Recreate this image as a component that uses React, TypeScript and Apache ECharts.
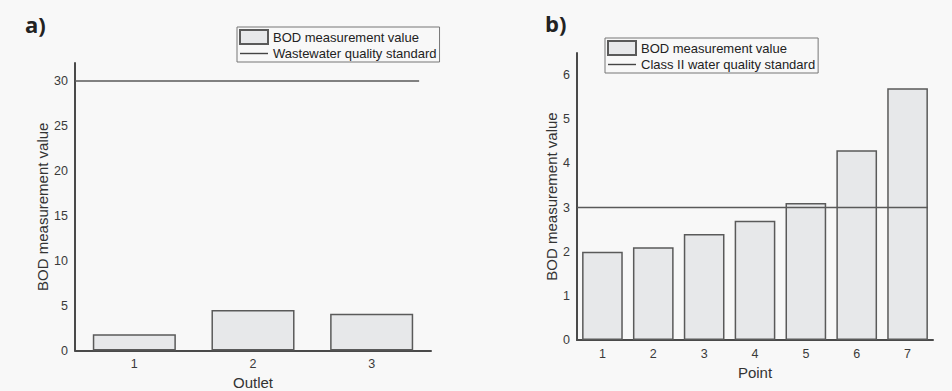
import React, { useEffect, useRef } from "react";
import * as echarts from "echarts";

const outlets = ["1", "2", "3"];
const outletBOD = [1.8, 4.5, 4.1];
const wastewaterStandard = 30;
const wastewaterSpan = [0, 2.9];

const points = ["1", "2", "3", "4", "5", "6", "7"];
const pointBOD = [2.0, 2.1, 2.4, 2.7, 3.1, 4.3, 5.7];
const classIIStandard = 3;
const classIISpan = [0, 6.9];

const FONT = "'Liberation Sans', Arial, sans-serif";
const AXIS_COLOR = "#4a4a4a";
const BAR_FILL = "#e7e8ea";
const BAR_BORDER = "#5a5a5a";
const LINE_ICON = "path://M0,0 H28 V1.4 H0 Z";

export default function App() {
  const ref = useRef<HTMLDivElement>(null);
  useEffect(() => {
    if (!ref.current) return;
    const chart = echarts.init(ref.current, null, { renderer: "svg" });
    const yAxisCommon = (gridIndex: number, max: number, interval: number, nameGap: number) => ({
      type: "value",
      gridIndex,
      min: 0,
      max,
      interval,
      name: "BOD measurement value",
      nameLocation: "middle",
      nameGap,
      nameTextStyle: { fontSize: 15, color: "#333", fontFamily: FONT },
      axisLine: { show: true, lineStyle: { color: AXIS_COLOR, width: 2 } },
      axisTick: { show: false },
      splitLine: { show: false },
      axisLabel: { fontSize: 12.5, color: "#3a3a3a", fontFamily: FONT, margin: 7, showMaxLabel: false },
    });
    const catAxis = (gridIndex: number, data: string[], name: string, nameGap: number) => ({
      type: "category",
      gridIndex,
      data,
      name,
      nameLocation: "middle",
      nameGap,
      nameTextStyle: { fontSize: 15, color: "#333", fontFamily: FONT },
      axisLine: { show: true, lineStyle: { color: AXIS_COLOR, width: 2 } },
      axisTick: { show: false },
      axisLabel: { fontSize: 12.5, color: "#3a3a3a", fontFamily: FONT, margin: 7 },
    });
    const hiddenX = (gridIndex: number, max: number) => ({
      type: "value",
      gridIndex,
      min: 0,
      max,
      show: false,
    });
    const legendCommon = {
      orient: "vertical",
      itemWidth: 28,
      itemHeight: 14,
      itemGap: 2,
      padding: [2, 3, 2, 2],
      borderColor: "#777",
      borderWidth: 1,
      textStyle: { fontSize: 13, color: "#222", fontFamily: FONT },
      selectedMode: false,
    };
    chart.setOption({
      animation: false,
      backgroundColor: "#f8f8f8",
      title: [
        { text: "a)", left: 20, top: 8, textStyle: { fontSize: 22, fontWeight: "bold", color: "#222", fontFamily: "'Open Sans', sans-serif" } },
        { text: "b)", left: 540, top: 7, textStyle: { fontSize: 22, fontWeight: "bold", color: "#222", fontFamily: "'Open Sans', sans-serif" } },
      ],
      legend: [
        {
          ...legendCommon,
          left: 237,
          top: 27,
          data: [
            { name: "BOD measurement value", icon: "rect" },
            { name: "Wastewater quality standard", icon: LINE_ICON, itemStyle: { color: "#444" } },
          ],
        },
        {
          ...legendCommon,
          left: 605,
          top: 38,
          data: [
            { name: "BOD measurement value", icon: "rect" },
            { name: "Class II water quality standard", icon: LINE_ICON, itemStyle: { color: "#444" } },
          ],
        },
      ],
      grid: [
        { left: 75, top: 63, width: 356, height: 287.5, outerBoundsMode: "none", containLabel: false },
        { left: 577, top: 53, width: 356, height: 287, outerBoundsMode: "none", containLabel: false },
      ],
      xAxis: [
        catAxis(0, outlets, "Outlet", 24),
        catAxis(1, points, "Point", 25),
        hiddenX(0, outlets.length),
        hiddenX(1, points.length),
      ],
      yAxis: [yAxisCommon(0, 32, 5, 25), yAxisCommon(1, 6.5, 1, 18)],
      series: [
        {
          type: "bar",
          name: "BOD measurement value",
          xAxisIndex: 0,
          yAxisIndex: 0,
          data: outletBOD,
          barWidth: "70%",
          itemStyle: { color: BAR_FILL, borderColor: BAR_BORDER, borderWidth: 1.5 },
        },
        {
          type: "line",
          name: "Wastewater quality standard",
          xAxisIndex: 2,
          yAxisIndex: 0,
          data: wastewaterSpan.map((x) => [x, wastewaterStandard]),
          symbol: "none",
          lineStyle: { color: "#5a5a5a", width: 1.5 },
          itemStyle: { color: "#444" },
          z: 3,
        },
        {
          type: "bar",
          name: "BOD measurement value",
          xAxisIndex: 1,
          yAxisIndex: 1,
          data: pointBOD,
          barWidth: "80%",
          itemStyle: { color: BAR_FILL, borderColor: BAR_BORDER, borderWidth: 1.5 },
        },
        {
          type: "line",
          name: "Class II water quality standard",
          xAxisIndex: 3,
          yAxisIndex: 1,
          data: classIISpan.map((x) => [x, classIIStandard]),
          symbol: "none",
          lineStyle: { color: "#5a5a5a", width: 1.5 },
          itemStyle: { color: "#444" },
          z: 3,
        },
      ],
    });
    return () => chart.dispose();
  }, []);
  return (
    <div style={{ position: "fixed", left: 0, top: 0, width: 952, height: 391 }}>
      <div ref={ref} style={{ width: 952, height: 391 }} />
    </div>
  );
}
